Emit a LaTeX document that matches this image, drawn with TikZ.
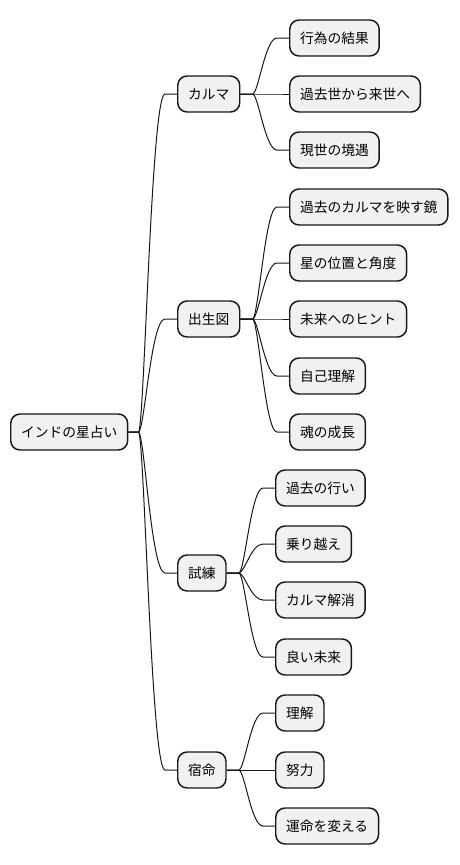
\documentclass[tikz,border=0pt]{standalone}
\usepackage{fontspec}
\newfontfamily\jp{Noto Sans CJK JP}
\usetikzlibrary{positioning, calc}
\definecolor{boxfill}{HTML}{F1F1F1}
\definecolor{boxline}{HTML}{181818}
\tikzstyle{topic} = [rectangle, rounded corners=7pt, draw=boxline, fill=boxfill, line width=1.1pt, minimum height=27pt, inner xsep=7.8pt, anchor=west, font=\jp\fontsize{10.3pt}{12pt}\selectfont]
\tikzstyle{branch} = [line width=0.75pt, boxline]

\begin{document}
\begin{tikzpicture}[x=0.75pt, y=-0.75pt]
	\useasboundingbox (0,0) rectangle (460,865);

	% Root
	\node (root) [topic] at (10,432) {インドの星占い};

	% First level
	\node (karma) [topic] at (177,94) {カルマ};
	\node (chart) [topic] at (177,319) {出生図};
	\node (trial) [topic] at (177,573) {試練};
	\node (fate)  [topic] at (177,770) {宿命};

	% Karma
	\node (karma1) [topic] at (289,38)  {行為の結果};
	\node (karma2) [topic] at (289,94)  {過去世から来世へ};
	\node (karma3) [topic] at (289,150) {現世の境遇};

	% Birth chart
	\node (chart1) [topic] at (289,207) {過去のカルマを映す鏡};
	\node (chart2) [topic] at (289,263) {星の位置と角度};
	\node (chart3) [topic] at (289,319) {未来へのヒント};
	\node (chart4) [topic] at (289,376) {自己理解};
	\node (chart5) [topic] at (289,432) {魂の成長};

	% Trials
	\node (trial1) [topic] at (275,488) {過去の行い};
	\node (trial2) [topic] at (275,544) {乗り越え};
	\node (trial3) [topic] at (275,600) {カルマ解消};
	\node (trial4) [topic] at (275,657) {良い未来};

	% Fate
	\node (fate1) [topic] at (275,713) {理解};
	\node (fate2) [topic] at (275,770) {努力};
	\node (fate3) [topic] at (275,826) {運命を変える};

	% Branches - root
	\draw[branch] (root.east) -- ++(10,0) .. controls +(6,0) and +(-14,0) .. ($(karma.west)+(-12,0)$) -- (karma.west);
	\draw[branch] (root.east) -- ++(10,0) .. controls +(6,0) and +(-14,0) .. ($(chart.west)+(-12,0)$) -- (chart.west);
	\draw[branch] (root.east) -- ++(10,0) .. controls +(6,0) and +(-14,0) .. ($(trial.west)+(-12,0)$) -- (trial.west);
	\draw[branch] (root.east) -- ++(10,0) .. controls +(6,0) and +(-14,0) .. ($(fate.west)+(-12,0)$) -- (fate.west);

	% Branches - karma
	\draw[branch] (karma.east) -- ++(12,0) .. controls +(6,0) and +(-12,0) .. ($(karma1.west)+(-12,0)$) -- (karma1.west);
	\draw[branch] (karma.east) -- ++(12,0) .. controls +(6,0) and +(-12,0) .. ($(karma2.west)+(-12,0)$) -- (karma2.west);
	\draw[branch] (karma.east) -- ++(12,0) .. controls +(6,0) and +(-12,0) .. ($(karma3.west)+(-12,0)$) -- (karma3.west);

	% Branches - birth chart
	\draw[branch] (chart.east) -- ++(12,0) .. controls +(6,0) and +(-12,0) .. ($(chart1.west)+(-12,0)$) -- (chart1.west);
	\draw[branch] (chart.east) -- ++(12,0) .. controls +(6,0) and +(-12,0) .. ($(chart2.west)+(-12,0)$) -- (chart2.west);
	\draw[branch] (chart.east) -- ++(12,0) .. controls +(6,0) and +(-12,0) .. ($(chart3.west)+(-12,0)$) -- (chart3.west);
	\draw[branch] (chart.east) -- ++(12,0) .. controls +(6,0) and +(-12,0) .. ($(chart4.west)+(-12,0)$) -- (chart4.west);
	\draw[branch] (chart.east) -- ++(12,0) .. controls +(6,0) and +(-12,0) .. ($(chart5.west)+(-12,0)$) -- (chart5.west);

	% Branches - trials
	\draw[branch] (trial.east) -- ++(12,0) .. controls +(6,0) and +(-12,0) .. ($(trial1.west)+(-12,0)$) -- (trial1.west);
	\draw[branch] (trial.east) -- ++(12,0) .. controls +(6,0) and +(-12,0) .. ($(trial2.west)+(-12,0)$) -- (trial2.west);
	\draw[branch] (trial.east) -- ++(12,0) .. controls +(6,0) and +(-12,0) .. ($(trial3.west)+(-12,0)$) -- (trial3.west);
	\draw[branch] (trial.east) -- ++(12,0) .. controls +(6,0) and +(-12,0) .. ($(trial4.west)+(-12,0)$) -- (trial4.west);

	% Branches - fate
	\draw[branch] (fate.east) -- ++(12,0) .. controls +(6,0) and +(-12,0) .. ($(fate1.west)+(-12,0)$) -- (fate1.west);
	\draw[branch] (fate.east) -- ++(12,0) .. controls +(6,0) and +(-12,0) .. ($(fate2.west)+(-12,0)$) -- (fate2.west);
	\draw[branch] (fate.east) -- ++(12,0) .. controls +(6,0) and +(-12,0) .. ($(fate3.west)+(-12,0)$) -- (fate3.west);

\end{tikzpicture}
\end{document}
